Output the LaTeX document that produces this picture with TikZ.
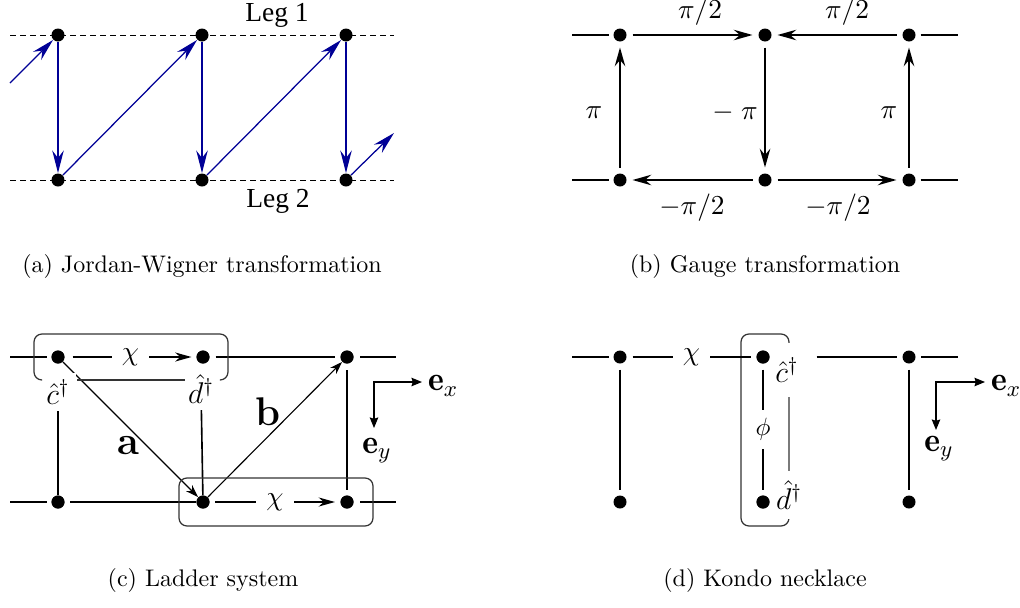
\documentclass[tikz,border=0pt]{standalone}
\usepackage{fontspec}
\newfontfamily\legfont{Liberation Serif}
\usetikzlibrary{arrows.meta}
\definecolor{arrblue}{RGB}{0,0,150}
\begin{document}
\begin{tikzpicture}[x=0.4pt,y=-0.4pt,
  dot/.style={circle,fill=black,inner sep=0pt,minimum size=5.2pt},
  dashline/.style={line width=0.4pt,dash pattern=on 2.4pt off 1.6pt},
  jw/.style={arrblue,line width=0.5pt,-{Stealth[length=9pt,width=4.6pt,inset=3pt]}},
  bline/.style={line width=0.65pt},
  gapline/.style={shorten <=2.2pt,shorten >=2.2pt},
  barrow/.style={-{Stealth[length=7.5pt,width=4.2pt,inset=2.5pt]}},
  carrow/.style={-{Stealth[length=6.5pt,width=3.6pt,inset=2pt]}},
  thinarrow/.style={line width=0.45pt,-{Stealth[length=5pt,width=3.4pt,inset=1.5pt]}},
  axarrow/.style={line width=0.5pt,{Stealth[length=4.2pt,width=3.4pt,inset=0.5pt]}-{Stealth[length=4.2pt,width=3.4pt,inset=0.5pt]}},
  boxline/.style={line width=0.5pt,black!80},
  leg/.style={font=\legfont\fontsize{11}{13}\selectfont},
  mlab/.style={font=\fontsize{10.9}{13}\selectfont,inner sep=1pt},
  chi/.style={fill=white,inner xsep=4pt,inner ysep=1pt,font=\fontsize{11}{13}\selectfont},
  philab/.style={fill=white,inner xsep=1pt,inner ysep=3.5pt,font=\fontsize{10}{12}\selectfont},
  oplab/.style={fill=white,inner sep=2.5pt,font=\fontsize{11.5}{13}\selectfont},
  boldlab/.style={font=\fontsize{16}{18}\selectfont\bfseries},
  elab/.style={inner sep=1pt,font=\fontsize{13.5}{15}\selectfont},
  captext/.style={font=\fontsize{9.6}{11.5}\selectfont}
]
\useasboundingbox (0,0) rectangle (1020,607);

% ---------------- (a) ----------------
\coordinate (aL1) at (10,35);  \coordinate (aR1) at (394,35);
\coordinate (aL2) at (10,180); \coordinate (aR2) at (394,180);
\draw[dashline] (aL1) -- (aR1);
\draw[dashline] (aL2) -- (aR2);
\node[dot] (A1t) at (58,35) {};
\node[dot] (A2t) at (202,35) {};
\node[dot] (A3t) at (346,35) {};
\node[dot] (A1b) at (58,180) {};
\node[dot] (A2b) at (202,180) {};
\node[dot] (A3b) at (346,180) {};
\coordinate (ain) at (10,83);
\coordinate (aout) at (394,133);
\draw[jw] (ain) -- (A1t);
\draw[jw] (A1t) -- (A1b);
\draw[jw] (A1b) -- (A2t);
\draw[jw] (A2t) -- (A2b);
\draw[jw] (A2b) -- (A3t);
\draw[jw] (A3t) -- (A3b);
\draw[jw] (A3b) -- (aout);
\node[leg] (leg1) at (277,15) {Leg 1};
\node[leg] (leg2) at (278,201) {Leg 2};

% ---------------- (b) ----------------
\node[dot] (B1t) at (620,35) {};
\node[dot] (B2t) at (765,35) {};
\node[dot] (B3t) at (909,35) {};
\node[dot] (B1b) at (620,180) {};
\node[dot] (B2b) at (765,180) {};
\node[dot] (B3b) at (909,180) {};
\coordinate (bl1) at (572,35);  \coordinate (br1) at (958,35);
\coordinate (bl2) at (572,180); \coordinate (br2) at (958,180);
\draw[bline,shorten >=1.8pt] (bl1) -- (B1t);
\draw[bline,shorten >=1.8pt] (bl2) -- (B1b);
\draw[bline,shorten <=1.8pt] (B3t) -- (br1);
\draw[bline,shorten <=1.8pt] (B3b) -- (br2);
\draw[bline,barrow,gapline] (B1t) -- (B2t);
\draw[bline,barrow,gapline] (B3t) -- (B2t);
\draw[bline,barrow,gapline] (B1b) -- (B1t);
\draw[bline,barrow,gapline] (B2t) -- (B2b);
\draw[bline,barrow,gapline] (B3b) -- (B3t);
\draw[bline,barrow,gapline] (B2b) -- (B1b);
\draw[bline,barrow,gapline] (B2b) -- (B3b);
\node[mlab] (pb1) at (700,12) {$\pi/2$};
\node[mlab] (pb2) at (847,12) {$\pi/2$};
\node[mlab] (pb3) at (594,113) {$\pi$};
\node[mlab] (pb4) at (735,113) {$-\;\pi$};
\node[mlab] (pb5) at (889,113) {$\pi$};
\node[mlab] (pb6) at (692,208) {$-\pi/2$};
\node[mlab] (pb7) at (838,208) {$-\pi/2$};

% ---------------- (c) ----------------
\node[dot] (C1t) at (58,357) {};
\node[dot] (C2t) at (203,357) {};
\node[dot] (C3t) at (347,357) {};
\node[dot] (C1b) at (58,502) {};
\node[dot] (C2b) at (203,502) {};
\node[dot] (C3b) at (347,502) {};
\coordinate (cl1) at (10,357);  \coordinate (cr1) at (396,357);
\coordinate (cl2) at (10,502);  \coordinate (cr2) at (396,502);
\draw[bline,shorten >=1.8pt] (cl1) -- (C1t);
\draw[bline,shorten >=1.8pt] (cl2) -- (C1b);
\draw[bline,shorten <=2.4pt] (C3t) -- (cr1);
\draw[bline,shorten <=2.4pt] (C3b) -- (cr2);
\draw[bline,carrow,shorten <=3pt,shorten >=1.8pt] (C1t) -- node[chi] (chic1) {$\chi$} (C2t);
\draw[bline,gapline] (C2t) -- (C3t);
\draw[bline,shorten <=2pt] (C1b) -- (C2b);
\draw[bline,carrow,shorten <=2pt,shorten >=2pt] (C2b) -- node[chi] (chic2) {$\chi$} (C3b);
\draw[bline,shorten <=2.4pt,shorten >=2pt] (C3t) -- (C3b);
\draw[thinarrow] (C1t) -- (C2b);
\draw[thinarrow] (C2b) -- (C3t);
\node[oplab] (clab) at (58,392) {$\hat c^\dagger$};
\node[oplab] (dlab) at (201,389) {$\hat d^\dagger$};
\draw[bline] (clab) -- (C1b);
\draw[bline] (dlab) -- (C2b);
\draw[boxline,rounded corners=3.2pt] (42,380) -- (34,380) -- (34,334) -- (228,334) -- (228,380) -- (220,380);
\draw[boxline] (77,380) -- (185,380);
\draw[boxline,rounded corners=3.2pt] (179,478) rectangle (373,526);
\node[boldlab] (la) at (128,446) {a};
\node[boldlab] (lb) at (268,412) {b};
\coordinate (cax) at (374,382);
\coordinate (caxr) at (422,382);
\coordinate (caxd) at (374,428);
\draw[axarrow] (caxr) -- (cax) -- (caxd);
\node[elab,anchor=west] (cex) at (425,386) {$\mathbf{e}_x$};
\node[elab,anchor=north] (cey) at (377,435) {$\mathbf{e}_y$};
\node[dot] at (C1t) {};
\node[dot] at (C2t) {};
\node[dot] at (C3t) {};
\node[dot] at (C1b) {};
\node[dot] at (C2b) {};
\node[dot] at (C3b) {};

% ---------------- (d) ----------------
\coordinate (dl1) at (572,357); \coordinate (dr1) at (958,357);
\node[dot] (D1t) at (620,357) {};
\node[dot] (D2t) at (763,357) {};
\node[dot] (D3t) at (909,357) {};
\node[dot] (D1b) at (620,502) {};
\node[dot] (D2b) at (763,502) {};
\node[dot] (D3b) at (909,502) {};
\draw[boxline,rounded corners=3.2pt] (741,334) rectangle (789,526);
\draw[bline,shorten >=1.8pt] (dl1) -- (D1t);
\draw[bline,shorten <=2pt] (D3t) -- (dr1);
\draw[bline,gapline] (D1t) -- node[chi] (chid) {$\chi$} (D2t);
\draw[bline,shorten <=18.6pt,shorten >=2pt] (D2t) -- (D3t);
\draw[bline,gapline] (D1t) -- (D1b);
\draw[bline,gapline] (D3t) -- (D3b);
\draw[bline,gapline] (D2t) -- node[philab] (phid) {$\phi$} (D2b);
\node[oplab,inner xsep=1.2pt,inner ysep=6pt] (dc) at (787,370) {$\hat c^\dagger$};
\node[oplab,inner xsep=1.2pt,inner ysep=4pt] (dd) at (789,495) {$\hat d^\dagger$};
\node[dot] at (D2t) {};
\node[dot] at (D2b) {};
\coordinate (dax) at (936,382);
\coordinate (daxr) at (985,382);
\coordinate (daxd) at (936,430);
\draw[axarrow] (daxr) -- (dax) -- (daxd);
\node[elab,anchor=west] (dex) at (988,386) {$\mathbf{e}_x$};
\node[elab,anchor=north] (dey) at (939,433) {$\mathbf{e}_y$};

% ---------------- captions ----------------
\node[captext] (capa) at (202,266) {(a) Jordan-Wigner transformation};
\node[captext] (capb) at (765,266) {(b) Gauge transformation};
\node[captext] (capc) at (203,580) {(c) Ladder system};
\node[captext] (capd) at (765,580) {(d) Kondo necklace};
\end{tikzpicture}
\end{document}
